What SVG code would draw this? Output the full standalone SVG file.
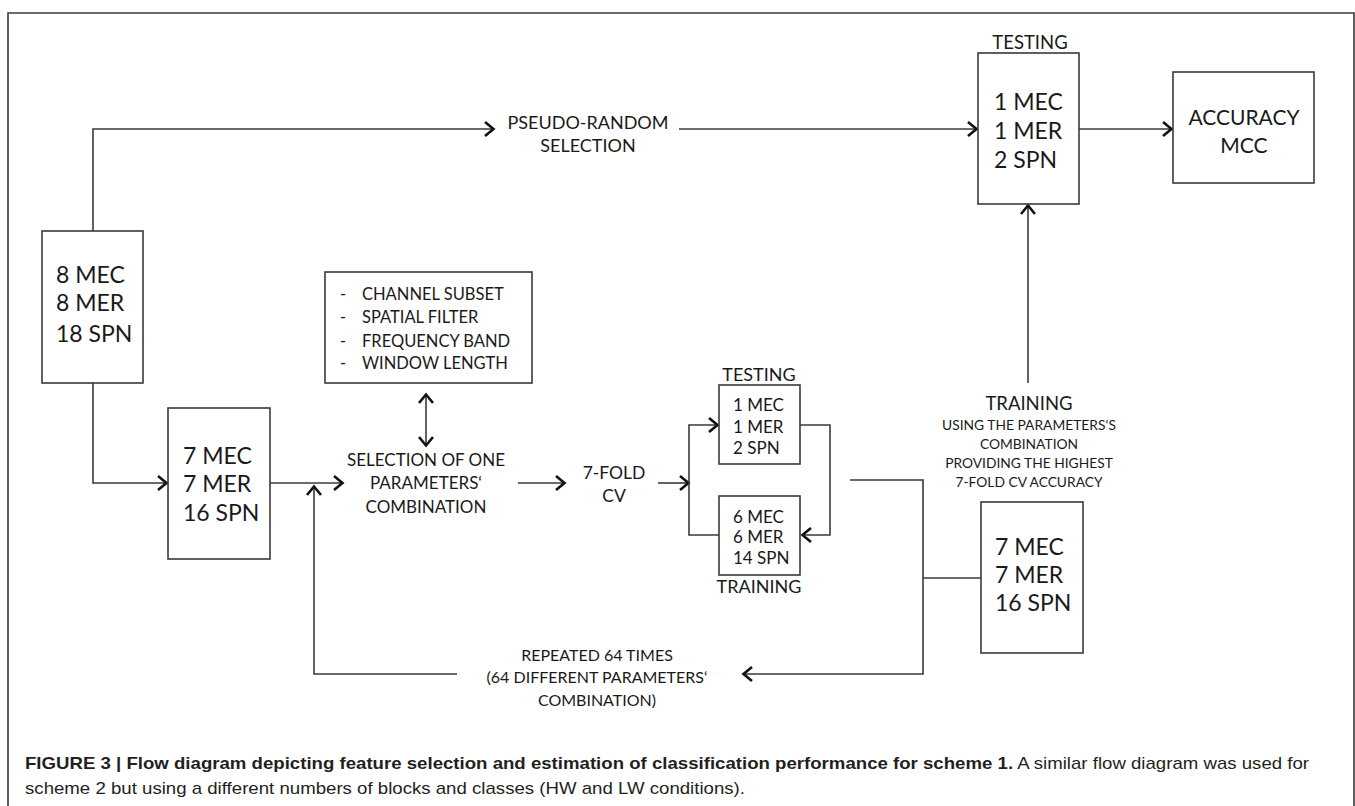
<svg xmlns="http://www.w3.org/2000/svg" width="1355" height="806" viewBox="0 0 1355 806">
<style>
.ln{fill:none;stroke:#3a3a3a;stroke-width:1.6}
.bx{fill:#fff;stroke:#3a3a3a;stroke-width:1.6}
.t{font-family:Lato,"Open Sans",sans-serif;fill:#1a1a1a}
.c{text-anchor:middle}
.big{font-size:23px}
.sm{font-size:17px}
.cap{font-family:"Liberation Sans",Arial,sans-serif;font-size:17px;fill:#231f20}
</style>
<defs>
<marker id="ah" markerUnits="userSpaceOnUse" markerWidth="16" markerHeight="18" viewBox="0 0 16 18" refX="13" refY="9" orient="auto">
<path d="M4,2 L12.5,9 L4,16" fill="none" stroke="#111" stroke-width="2.6" stroke-linejoin="miter"/>
</marker>
<marker id="ahs" markerUnits="userSpaceOnUse" markerWidth="16" markerHeight="18" viewBox="0 0 16 18" refX="13" refY="9" orient="auto-start-reverse">
<path d="M4,2 L12.5,9 L4,16" fill="none" stroke="#111" stroke-width="2.6" stroke-linejoin="miter"/>
</marker>
</defs>
<rect width="1355" height="806" fill="#fff"/>
<path class="ln" d="M8,806 V13 H1354 V806"/>

<g id="connectors">
<path class="ln" d="M93,231 V129 H494" marker-end="url(#ah)"/>
<path class="ln" d="M679,129 H977" marker-end="url(#ah)"/>
<path class="ln" d="M1079,129 H1172" marker-end="url(#ah)"/>
<path class="ln" d="M1028,383 V205" marker-end="url(#ah)"/>
<path class="ln" d="M93,383 V483 H167" marker-end="url(#ah)"/>
<path class="ln" d="M270,483 H343" marker-end="url(#ah)"/>
<path class="ln" d="M426,394 V446" marker-start="url(#ahs)" marker-end="url(#ahs)"/>
<path class="ln" d="M518,483 H565" marker-end="url(#ah)"/>
<path class="ln" d="M658,483 H689" marker-end="url(#ah)"/>
<path class="ln" d="M719,535 H689 V425 H718" marker-end="url(#ah)"/>
<path class="ln" d="M800,425 H830 V535 H802" marker-end="url(#ah)"/>
<path class="ln" d="M850,480 H923 V674 H743" marker-end="url(#ah)"/>
<path class="ln" d="M923,578 H981"/>
<path class="ln" d="M457,674 H314 V486" marker-end="url(#ah)"/>
</g>

<g id="pseudo-random">
<text class="t c" x="588" y="129" font-size="18">PSEUDO-RANDOM</text>
<text class="t c" x="588" y="152" font-size="18">SELECTION</text>
</g>

<g id="testing-final">
<text class="t c" x="1030" y="49" font-size="18.5">TESTING</text>
<rect class="bx" x="978" y="53" width="101" height="151"/>
<text class="t big" x="994" y="110">1 MEC</text>
<text class="t big" x="994" y="139">1 MER</text>
<text class="t big" x="994" y="168">2 SPN</text>
</g>

<g id="accuracy">
<rect class="bx" x="1173" y="72" width="141" height="111"/>
<text class="t c" x="1244" y="125" font-size="21">ACCURACY</text>
<text class="t c" x="1244" y="153" font-size="21">MCC</text>
</g>

<g id="all-data">
<rect class="bx" x="42" y="231" width="101" height="152"/>
<text class="t big" x="56" y="283">8 MEC</text>
<text class="t big" x="56" y="311">8 MER</text>
<text class="t big" x="56" y="342">18 SPN</text>
</g>

<g id="training-set">
<rect class="bx" x="168" y="408" width="102" height="151"/>
<text class="t big" x="183" y="464">7 MEC</text>
<text class="t big" x="183" y="492">7 MER</text>
<text class="t big" x="183" y="521">16 SPN</text>
</g>

<g id="parameters">
<rect class="bx" x="325" y="272" width="207" height="111"/>
<g class="t" font-size="16.5">
<text x="340" y="300">-</text><text x="362" y="300">CHANNEL SUBSET</text>
<text x="340" y="323">-</text><text x="362" y="323">SPATIAL FILTER</text>
<text x="340" y="347">-</text><text x="362" y="347">FREQUENCY BAND</text>
<text x="340" y="369">-</text><text x="362" y="369">WINDOW LENGTH</text>
</g>
</g>

<g id="selection">
<text class="t c" x="426" y="466" font-size="17">SELECTION OF ONE</text>
<text class="t c" x="426" y="489" font-size="17">PARAMETERS‘</text>
<text class="t c" x="426" y="513" font-size="17">COMBINATION</text>
</g>

<g id="sevenfold">
<text class="t c" x="614" y="479" font-size="17.5">7-FOLD</text>
<text class="t c" x="614" y="502" font-size="17.5">CV</text>
</g>

<g id="cv-testing">
<text class="t c" x="759" y="381" font-size="18">TESTING</text>
<rect class="bx" x="719" y="385" width="81" height="79"/>
<text class="t sm" x="733" y="411">1 MEC</text>
<text class="t sm" x="733" y="433">1 MER</text>
<text class="t sm" x="733" y="454">2 SPN</text>
</g>

<g id="cv-training">
<rect class="bx" x="719" y="496" width="81" height="79"/>
<text class="t sm" x="733" y="523">6 MEC</text>
<text class="t sm" x="733" y="543">6 MER</text>
<text class="t sm" x="733" y="564">14 SPN</text>
<text class="t c" x="759" y="593" font-size="18">TRAINING</text>
</g>

<g id="training-label">
<text class="t c" x="1029" y="410" font-size="18.5">TRAINING</text>
<g class="t c" font-size="13.8">
<text x="1029" y="430">USING THE PARAMETERS‘S</text>
<text x="1029" y="449">COMBINATION</text>
<text x="1029" y="468">PROVIDING THE HIGHEST</text>
<text x="1029" y="487">7-FOLD CV ACCURACY</text>
</g>
</g>

<g id="final-training">
<rect class="bx" x="981" y="502" width="102" height="151"/>
<text class="t big" x="995" y="555">7 MEC</text>
<text class="t big" x="995" y="583">7 MER</text>
<text class="t big" x="995" y="611">16 SPN</text>
</g>

<g id="repeated">
<text class="t c" x="597" y="661" font-size="16">REPEATED 64 TIMES</text>
<text class="t c" x="597" y="683" font-size="16">(64 DIFFERENT PARAMETERS‘</text>
<text class="t c" x="597" y="706" font-size="16">COMBINATION)</text>
</g>

<g id="caption">
<text class="cap" x="25" y="769" textLength="1284" lengthAdjust="spacingAndGlyphs"><tspan font-weight="bold">FIGURE 3 | Flow diagram depicting feature selection and estimation of classification performance for scheme 1.</tspan> A similar flow diagram was used for</text>
<text class="cap" x="25" y="794" textLength="720" lengthAdjust="spacingAndGlyphs">scheme 2 but using a different numbers of blocks and classes (HW and LW conditions).</text>
</g>
</svg>
